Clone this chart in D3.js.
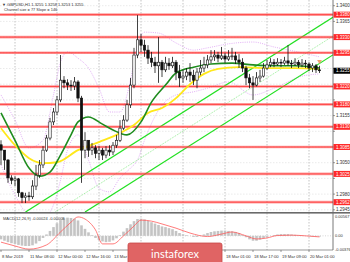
<!doctype html>
<html lang="en">
<head>
<meta charset="utf-8">
<title>GBPUSD H1</title>
<style>
  * { margin: 0; padding: 0; box-sizing: border-box; }
  body { background: #fff; width: 350px; height: 262px; overflow: hidden; }
  svg { display: block; font-family: "Liberation Sans", Arial, sans-serif; }
</style>
</head>
<body>
<div id="chart"></div>
<script src="https://cdn.jsdelivr.net/npm/d3@7"></script>
<script>
// ---- data (2h bars) ----
const firstOpen = 1.3090;
const closes = [1.3078,1.3056,1.3016,1.3011,1.3014,1.2983,1.2972,1.2976,1.2974,1.2998,
  1.3022,1.3045,1.3078,1.3105,1.3141,1.3163,1.3190,1.3234,1.3228,1.3223,
  1.3221,1.3230,1.3194,1.3078,1.3100,1.3078,1.3083,1.3071,1.3078,1.3067,
  1.3078,1.3074,1.3089,1.3100,1.3127,1.3145,1.3179,1.3223,1.3290,1.3324,
  1.3312,1.3301,1.3283,1.3274,1.3266,1.3274,1.3257,1.3272,1.3266,1.3274,
  1.3252,1.3239,1.3243,1.3252,1.3245,1.3234,1.3252,1.3261,1.3268,1.3279,
  1.3286,1.3290,1.3283,1.3288,1.3281,1.3286,1.3288,1.3279,1.3274,1.3261,
  1.3239,1.3228,1.3223,1.3239,1.3243,1.3261,1.3268,1.3274,1.3270,1.3274,
  1.3272,1.3277,1.3272,1.3270,1.3274,1.3268,1.3272,1.3270,1.3261,1.3266,
  1.3257,1.3255];
const highs = [1.3100,1.3078,1.3058,1.3022,1.3020,1.3016,1.2985,1.2983,1.2985,1.3011,
  1.3045,1.3056,1.3087,1.3112,1.3150,1.3172,1.3199,1.3290,1.3243,1.3236,
  1.3234,1.3241,1.3234,1.3199,1.3118,1.3100,1.3094,1.3089,1.3087,1.3083,
  1.3087,1.3089,1.3096,1.3112,1.3145,1.3156,1.3190,1.3239,1.3306,1.3379,
  1.3337,1.3324,1.3312,1.3297,1.3286,1.3330,1.3279,1.3286,1.3283,1.3286,
  1.3279,1.3268,1.3257,1.3261,1.3272,1.3257,1.3261,1.3279,1.3286,1.3290,
  1.3301,1.3301,1.3297,1.3308,1.3295,1.3301,1.3306,1.3297,1.3292,1.3283,
  1.3266,1.3248,1.3243,1.3252,1.3257,1.3272,1.3279,1.3283,1.3281,1.3283,
  1.3281,1.3286,1.3312,1.3279,1.3283,1.3279,1.3281,1.3279,1.3274,1.3272,
  1.3270,1.3266];
const lows = [1.3045,1.3034,1.3005,1.3002,1.2998,1.2974,1.2960,1.2960,1.2965,1.2969,
  1.2989,1.3016,1.3038,1.3074,1.3100,1.3134,1.3156,1.3185,1.3216,1.3212,
  1.3210,1.3212,1.3185,1.3005,1.3060,1.3063,1.3067,1.3060,1.3056,1.3056,
  1.3060,1.3065,1.3067,1.3083,1.3096,1.3123,1.3141,1.3172,1.3216,1.3283,
  1.3297,1.3286,1.3270,1.3263,1.3250,1.3228,1.3241,1.3252,1.3257,1.3261,
  1.3234,1.3219,1.3228,1.3234,1.3230,1.3223,1.3216,1.3245,1.3252,1.3261,
  1.3272,1.3277,1.3274,1.3279,1.3272,1.3277,1.3279,1.3270,1.3261,1.3252,
  1.3223,1.3216,1.3190,1.3220,1.3230,1.3240,1.3257,1.3263,1.3263,1.3266,
  1.3263,1.3268,1.3266,1.3261,1.3266,1.3261,1.3263,1.3261,1.3254,1.3252,
  1.3250,1.3250];

// moving averages (sampled bars)
const yellowIdx = [0,4,8,12,16,22,28,34,38,42,46,50,54,58,62,68,76,84,91];
const yellowVals = [1.3127,1.3089,1.3060,1.3049,1.3051,1.3078,1.3096,1.3116,1.3134,1.3161,1.3172,1.3194,1.3225,1.3248,1.3259,1.3263,1.3261,1.3261,1.3259];
const greenIdx = [0,4,8,11,14,17,20,22,25,29,32,36,40,43,47,50,55,60,66,72,78,84,91];
const greenVals = [1.3161,1.3100,1.3038,1.3020,1.3029,1.3067,1.3112,1.3141,1.3152,1.3136,1.3123,1.3112,1.3141,1.3185,1.3223,1.3250,1.3263,1.3270,1.3272,1.3268,1.3266,1.3266,1.3261];

// envelope bands
const bandIdx = [0,4,8,12,15,17,19,22,25,28,31,34,37,39,41,45,50,55,59,65,72,78,86,91];
const bandUpper = [1.3201,1.3145,1.3083,1.3100,1.3201,1.3274,1.3297,1.3283,1.3261,1.3216,1.3163,1.3163,1.3234,1.3312,1.3341,1.3339,1.3317,1.3301,1.3306,1.3315,1.3319,1.3308,1.3295,1.3286];
const bandLower = [1.3045,1.2978,1.2933,1.2927,1.2956,1.3011,1.3078,1.3112,1.3056,1.2993,1.2985,1.3016,1.3038,1.3056,1.3100,1.3167,1.3201,1.3208,1.3216,1.3230,1.3201,1.3216,1.3243,1.3248];

// channel lines [barIndex, price]
const channelUpper = [[7, 1.2940], [95, 1.3375]];
const channelMid = [[15.5, 1.2940], [95, 1.3333]];
const channelLower = [[24, 1.2940], [95, 1.3291]];

// support / resistance levels
const levels = [1.3380, 1.3330, 1.3295, 1.3220, 1.3180, 1.3130, 1.3085, 1.3025, 1.2962];
const lastPrice = 1.3255;

// price axis ticks
const priceTicks = [1.3400,1.3365,1.3330,1.3295,1.3260,1.3225,1.3190,1.3155,1.3120,1.3085,1.3050,1.3015,1.2980,1.2945];

// time axis (labels at 14 Mar 00:00 .. 15 Mar 08:00 sit under the badge)
const timeIdx = [0,8,16,24,32,64,72,80,88];
const timeLabels = ["8 Mar 2019","11 Mar 08:00","12 Mar 00:00","12 Mar 16:00","13 Mar 08:00","18 Mar 01:00","18 Mar 17:00","19 Mar 09:00","20 Mar 01:00"];
const gridIdx = [4,16,28,40,52,64,76,88];

// MACD
const macdMain = [-0.0010,-0.0014,-0.0018,-0.0021,-0.0023,-0.0026,-0.0028,-0.0029,-0.0029,-0.0027,
  -0.0022,-0.0015,-0.0006,0.0004,0.0014,0.0025,0.0036,0.0045,0.0050,0.0052,
  0.0051,0.0049,0.0044,0.0030,0.0020,0.0010,0.0002,-0.0006,-0.0012,-0.0016,
  -0.0018,-0.0017,-0.0013,-0.0007,0.0002,0.0012,0.0022,0.0033,0.0042,0.0048,
  0.0049,0.0047,0.0043,0.0039,0.0035,0.0031,0.0027,0.0025,0.0022,0.0019,
  0.0014,0.0008,0.0004,0.0002,0.0000,-0.0003,-0.0003,0.0000,0.0004,0.0008,
  0.0011,0.0013,0.0014,0.0015,0.0015,0.0014,0.0013,0.0011,0.0008,0.0003,
  -0.0004,-0.0010,-0.0014,-0.0014,-0.0011,-0.0007,-0.0003,0.0000,0.0002,0.0004,
  0.0005,0.0005,0.0005,0.0004,0.0003,0.0002,0.0001,0.0000,-0.0001,-0.0002,
  -0.0002,-0.0002];
const signalIdx = [0,4,8,13,17,20,22,24,27,29,32,35,38,40,43,46,50,54,59,63,66,70,73,76,79,83,87,91];
const signalVals = [-0.0018,-0.0029,-0.0038,-0.0026,0.0011,0.0039,0.0054,0.0048,0.0017,-0.0023,-0.0023,0.0000,0.0028,0.0045,0.0042,0.0034,0.0022,0.0008,-0.0002,0.0005,0.0011,0.0000,-0.0009,-0.0006,0.0001,0.0002,0.0000,-0.0003];
const macdTicks = [0.00567, 0.00, -0.00376];
const macdTickText = ["0.00567", "0.00", "-0.00376"];

// ---- layout ----
const W = 350, H = 262;
const plotRight = 333;
const mainTop = 0, mainBottom = 212;
const macdTop = 214, macdBottom = 250;
const fs = 4.5;

const svg = d3.select('#chart').append('svg').attr('width', W).attr('height', H);

const x = d3.scaleLinear().domain([0, 92]).range([1, 323]);
const y = d3.scaleLinear().domain([1.2945, 1.3400]).range([209.8, 5.7]);
const ym = d3.scaleLinear().domain([-0.00376, 0.00567]).range([249, 216]);

const defs = svg.append('defs');
defs.append('clipPath').attr('id', 'clipMain').append('rect')
  .attr('x', 0).attr('y', mainTop).attr('width', plotRight).attr('height', mainBottom - mainTop);
defs.append('clipPath').attr('id', 'clipMacd').append('rect')
  .attr('x', 0).attr('y', macdTop).attr('width', plotRight).attr('height', macdBottom - macdTop);

// grid
const grid = svg.append('g');
grid.selectAll('.vg').data(gridIdx).join('line')
  .attr('x1', d => x(d)).attr('x2', d => x(d)).attr('y1', 0).attr('y2', macdBottom)
  .attr('stroke', '#9a9a9a').attr('stroke-width', 0.6).attr('stroke-dasharray', '1.5,1.5');
grid.selectAll('.hg').data(priceTicks).join('line')
  .attr('x1', 0).attr('x2', plotRight).attr('y1', d => y(d)).attr('y2', d => y(d))
  .attr('stroke', '#d4d4d4').attr('stroke-width', 0.5).attr('stroke-dasharray', '1.5,1.5');

const main = svg.append('g').attr('clip-path', 'url(#clipMain)');

// bands
const bandLine = d3.line().x(d => x(d[0])).y(d => y(d[1])).curve(d3.curveMonotoneX);
[bandUpper, bandLower].forEach(vals => {
  main.append('path').datum(bandIdx.map((i, k) => [i, vals[k]]))
    .attr('d', bandLine).attr('fill', 'none')
    .attr('stroke', '#d58cf0').attr('stroke-width', 0.7).attr('stroke-dasharray', '1,1.2');
});

// channel
const chanLine = d3.line().x(d => x(d[0])).y(d => y(d[1]));
main.append('path').datum(channelUpper).attr('d', chanLine).attr('stroke', '#22e022').attr('stroke-width', 1.2).attr('fill', 'none');
main.append('path').datum(channelMid).attr('d', chanLine).attr('stroke', '#7fe87f').attr('stroke-width', 0.8).attr('stroke-dasharray', '1,1').attr('fill', 'none');
main.append('path').datum(channelLower).attr('d', chanLine).attr('stroke', '#22e022').attr('stroke-width', 1.2).attr('fill', 'none');

// levels
main.selectAll('.lvl').data(levels).join('line')
  .attr('x1', 0).attr('x2', plotRight).attr('y1', d => y(d)).attr('y2', d => y(d))
  .attr('stroke', '#ff5a5a').attr('stroke-opacity', 0.55).attr('stroke-width', 2.6);
main.selectAll('.lvl2').data(levels).join('line')
  .attr('x1', 0).attr('x2', plotRight).attr('y1', d => y(d)).attr('y2', d => y(d))
  .attr('stroke', '#ff2a2a').attr('stroke-width', 0.8);

// moving averages
const maLine = d3.line().x(d => x(d[0])).y(d => y(d[1])).curve(d3.curveMonotoneX);
main.append('path').datum(yellowIdx.map((i, k) => [i, yellowVals[k]]))
  .attr('d', maLine).attr('fill', 'none').attr('stroke', '#ffe81a').attr('stroke-width', 1.8);
main.append('path').datum(greenIdx.map((i, k) => [i, greenVals[k]]))
  .attr('d', maLine).attr('fill', 'none').attr('stroke', '#1e8c1e').attr('stroke-width', 1.6);

// candles
const bars = closes.map((c, i) => ({ i, o: i === 0 ? firstOpen : closes[i - 1], c, h: highs[i], l: lows[i] }));
const cg = main.append('g');
cg.selectAll('.wick').data(bars).join('line')
  .attr('x1', d => x(d.i)).attr('x2', d => x(d.i))
  .attr('y1', d => y(d.h)).attr('y2', d => y(d.l))
  .attr('stroke', '#111').attr('stroke-width', 0.8);
cg.selectAll('.body').data(bars).join('rect')
  .attr('x', d => x(d.i) - 1.2).attr('width', 2.4)
  .attr('y', d => y(Math.max(d.o, d.c)))
  .attr('height', d => Math.max(0.8, Math.abs(y(d.o) - y(d.c))))
  .attr('fill', d => d.c >= d.o ? '#ffffff' : '#111')
  .attr('stroke', '#111').attr('stroke-width', 0.6);

// small marker at last bar
main.append('path')
  .attr('d', d3.symbol(d3.symbolTriangle, 10)())
  .attr('transform', `translate(${x(91)},${y(1.3276)}) rotate(180)`)
  .attr('fill', '#f4a070');

// header texts
svg.append('text').attr('x', 2).attr('y', 5.5).attr('font-size', 4).attr('fill', '#333')
  .text('\u25BC GBPUSD,H1  1.3255 1.3258 1.3253 1.3255');
svg.append('text').attr('x', 4).attr('y', 11).attr('font-size', 3.9).attr('fill', '#333')
  .text('Channel size = 77 Slope = 146');

// right axis
svg.append('line').attr('x1', plotRight).attr('x2', plotRight).attr('y1', 0).attr('y2', macdBottom)
  .attr('stroke', '#555').attr('stroke-width', 0.8);
// gray tick labels that are not covered by a level / price tag
const tagged = levels.concat([lastPrice]);
const freeTicks = priceTicks.filter(t => tagged.every(v => Math.abs(y(v) - y(t)) > 5));
const ax = svg.append('g');
ax.selectAll('.tk').data(priceTicks).join('line')
  .attr('x1', plotRight).attr('x2', plotRight + 2).attr('y1', d => y(d)).attr('y2', d => y(d))
  .attr('stroke', '#555').attr('stroke-width', 0.6);
ax.selectAll('.tl').data(freeTicks).join('text')
  .attr('x', plotRight + 3).attr('y', d => y(d) + 1.5).attr('font-size', fs).attr('fill', '#333')
  .text(d => d.toFixed(4));

// level labels
const lg = svg.append('g');
lg.selectAll('rect').data(levels).join('rect')
  .attr('x', plotRight + 0.5).attr('y', d => y(d) - 3).attr('width', W - plotRight).attr('height', 6)
  .attr('fill', '#ff2a2a');
lg.selectAll('text').data(levels).join('text')
  .attr('x', plotRight + 3).attr('y', d => y(d) + 1.6).attr('font-size', fs).attr('fill', '#fff')
  .text(d => d.toFixed(4));

// last price label
svg.append('rect').attr('x', plotRight + 0.5).attr('y', y(lastPrice) - 3).attr('width', W - plotRight).attr('height', 6).attr('fill', '#000');
svg.append('text').attr('x', plotRight + 3).attr('y', y(lastPrice) + 1.6).attr('font-size', fs).attr('fill', '#fff').text(lastPrice.toFixed(4));

// panel separator
svg.append('rect').attr('x', 0).attr('y', mainBottom).attr('width', W).attr('height', 1.6).attr('fill', '#6a6a6a');

// MACD panel
const mg = svg.append('g').attr('clip-path', 'url(#clipMacd)');
mg.append('line').attr('x1', 0).attr('x2', plotRight).attr('y1', ym(0)).attr('y2', ym(0))
  .attr('stroke', '#aaa').attr('stroke-width', 0.5).attr('stroke-dasharray', '1,1.5');
mg.selectAll('.hist').data(macdMain).join('rect')
  .attr('x', (d, i) => x(i) - 1.3).attr('width', 2.6)
  .attr('y', d => Math.min(ym(d), ym(0))).attr('height', d => Math.abs(ym(d) - ym(0)))
  .attr('fill', '#c4c4c4');
mg.append('path').datum(signalIdx.map((i, k) => [i, signalVals[k]]))
  .attr('d', d3.line().x(d => x(d[0])).y(d => ym(d[1])).curve(d3.curveMonotoneX))
  .attr('fill', 'none').attr('stroke', '#ff5b5b').attr('stroke-width', 0.8);
svg.append('text').attr('x', 3).attr('y', 220).attr('font-size', 4).attr('fill', '#333')
  .text('MACD(12,26,9) -0.00024 -0.00008');
svg.selectAll('.mt').data(macdTicks).join('text')
  .attr('x', plotRight + 2).attr('y', d => ym(d) + 1.5).attr('font-size', 4).attr('fill', '#333')
  .text((d, i) => macdTickText[i]);

// bottom axis
svg.append('line').attr('x1', 0).attr('x2', plotRight).attr('y1', macdBottom).attr('y2', macdBottom)
  .attr('stroke', '#555').attr('stroke-width', 0.6);
const tg = svg.append('g');
tg.selectAll('line').data(timeIdx).join('line')
  .attr('x1', d => x(d)).attr('x2', d => x(d)).attr('y1', macdBottom).attr('y2', macdBottom + 2)
  .attr('stroke', '#555').attr('stroke-width', 0.6);
tg.selectAll('text').data(timeIdx).join('text')
  .attr('x', d => x(d) + 1).attr('y', 257.5).attr('font-size', 4.2).attr('fill', '#333')
  .text((d, i) => timeLabels[i]);

// instaforex badge
const badge = svg.append('g');
badge.append('rect').attr('x', 128).attr('y', 243).attr('width', 94).attr('height', 24).attr('rx', 2)
  .attr('fill', '#e06464').attr('stroke', '#c84848').attr('stroke-width', 0.8);
badge.append('text').attr('x', 175).attr('y', 257.5).attr('text-anchor', 'middle')
  .attr('font-family', 'Lato, "Open Sans", sans-serif').attr('font-size', 11).attr('fill', '#fff')
  .text('instaforex');
</script>
</body>
</html>
